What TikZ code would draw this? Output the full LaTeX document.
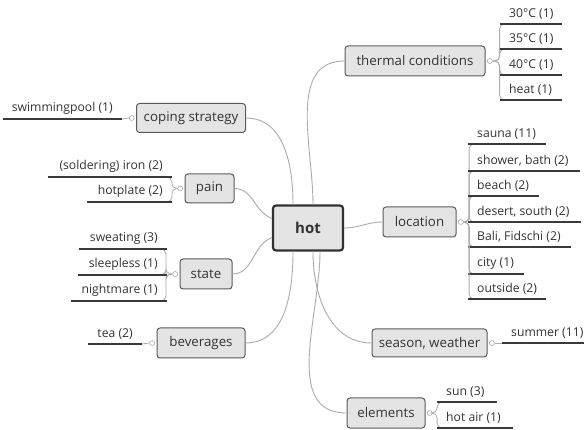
\documentclass[tikz,border=0pt]{standalone}
\usepackage{fontspec}
\setmainfont{Open Sans}
\usetikzlibrary{positioning}
\definecolor{boxfill}{HTML}{E4E4E4}
\definecolor{boxline}{HTML}{5A5A5A}
\definecolor{linkgray}{HTML}{ABABAB}
\definecolor{leafline}{HTML}{3A3A3A}
\definecolor{ink}{HTML}{333333}
\tikzset{
  topic/.style={draw=boxline, fill=boxfill, rounded corners=3pt, line width=1pt, text=ink,
    minimum height=30pt, inner sep=0pt, font=\fontsize{13.3}{15}\selectfont},
  central/.style={topic, draw=black!80, line width=2.2pt, minimum width=70pt,
    minimum height=45pt, font=\bfseries\fontsize{15}{18}\selectfont},
  knob/.style={circle, draw=linkgray, fill=white, inner sep=0pt, minimum size=5pt, line width=.6pt},
  link/.style={draw=linkgray, line width=.9pt},
  bracket/.style={draw=linkgray, line width=.8pt, rounded corners=5pt},
  leafR/.style={anchor=south west, inner xsep=9pt, inner ysep=4pt, text=ink, font=\fontsize{12.2}{14}\selectfont},
  leafL/.style={anchor=south east, inner xsep=9pt, inner ysep=4pt, text=ink, font=\fontsize{12.2}{14}\selectfont},
  under/.style={draw=leafline, line width=1.4pt},
}
\begin{document}
\begin{tikzpicture}[x=1pt,y=-1pt]
\useasboundingbox (0,0) rectangle (584,430);
%central topic
\node[central] (hot) at (308,228) {hot};
%right side topics
\node[topic, minimum width=140pt] (thermal) at (415,61) {thermal conditions};
\node[topic, minimum width=73pt] (location) at (419.5,222) {location};
\node[topic, minimum width=115pt, minimum height=28pt] (season) at (429.5,343) {season, weather};
\node[topic, minimum width=78pt] (elements) at (386,413) {elements};
%left side topics
\node[topic, minimum width=109pt, minimum height=29pt] (coping) at (191,118) {coping strategy};
\node[topic, minimum width=49pt, minimum height=29pt] (pain) at (209.5,188.5) {pain};
\node[topic, minimum width=52pt] (state) at (206,274) {state};
\node[topic, minimum width=88pt] (beverages) at (201,343) {beverages};
% links from the centre
\draw[link] ([xshift=5pt]hot.north) to[out=90,in=180] (thermal.west);
\draw[link] (hot.east) to[out=0,in=180] (location.west);
\draw[link] ([xshift=5pt]hot.south) to[out=-90,in=180] (season.west);
\draw[link] ([xshift=12pt]hot.south) to[out=-90,in=180] (elements.west);
\draw[link] ([xshift=-15pt]hot.north) to[out=90,in=0] (coping.east);
\draw[link] (hot.165) to[out=160,in=0] (pain.east);
\draw[link] (hot.195) to[out=200,in=0] (state.east);
\draw[link] ([xshift=-15pt]hot.south) to[out=-90,in=0] (beverages.east);
% knobs
\node[knob, right=1.5pt of thermal] (thermalk) {};
\node[knob, right=1.5pt of location] (locationk) {};
\node[knob, right=1.5pt of season] (seasonk) {};
\node[knob, right=1.5pt of elements] (elementsk) {};
\node[knob, left=1.5pt of coping] (copingk) {};
\node[knob, left=1.5pt of pain] (paink) {};
\node[knob, left=1.5pt of state] (statek) {};
\node[knob, left=1.5pt of beverages] (beveragesk) {};
%thermal conditions
\foreach \t/\y [count=\i] in {30°C (1)/24,35°C (1)/49,40°C (1)/75,heat (1)/100}{
  \node[leafR] (th\i) at (500,\y) {\t};
  \draw[bracket] (thermalk.east) -- ++(7,0) |- ([xshift=8pt]th\i.south west);
  \draw[under] (th\i.south west) -- ++(62,0);
}
%location
\foreach \t/\y/\w [count=\i] in {sauna (11)/144/78,{shower, bath (2)}/171/112,beach (2)/196/71,
    {desert, south (2)}/222/113,{Bali, Fidschi (2)}/247/103,city (1)/274/56,outside (2)/299/78}{
  \node[leafR] (lo\i) at (468,\y) {\t};
  \draw[bracket] (locationk.east) -- ++(5.5,0) |- ([xshift=8pt]lo\i.south west);
  \draw[under] (lo\i.south west) -- ++(\w,0);
}
%season, weather
\node[leafR] (se1) at (502,343) {summer (11)};
\draw[bracket] (seasonk.east) -- (se1.south west);
\draw[under] (se1.south west) -- ++(82,0);
%elements
\foreach \t/\y/\w [count=\i] in {sun (3)/402/60,hot air (1)/428/76}{
  \node[leafR] (el\i) at (437,\y) {\t};
  \draw[bracket] (elementsk.east) -- ++(4.5,0) |- ([xshift=8pt]el\i.south west);
  \draw[under] (el\i.south west) -- ++(\w,0);
}
%coping strategy
\node[leafL] (co1) at (122,119) {swimmingpool (1)};
\draw[bracket] (copingk.west) -- (co1.south east);
\draw[under] (co1.south east) -- ++(-119,0);
%pain
\foreach \t/\y/\w [count=\i] in {(soldering) iron (2)/177/124,hotplate (2)/202/85}{
  \node[leafL] (pa\i) at (172,\y) {\t};
  \draw[bracket] (paink.west) -- ++(-5.5,0) |- ([xshift=-8pt]pa\i.south east);
  \draw[under] (pa\i.south east) -- ++(-\w,0);
}
%state
\foreach \t/\y/\w [count=\i] in {sweating (3)/249/88,sleepless (1)/275/89,nightmare (1)/301/96}{
  \node[leafL] (st\i) at (167,\y) {\t};
  \draw[bracket] (statek.west) -- ++(-6.5,0) |- ([xshift=-8pt]st\i.south east);
  \draw[under] (st\i.south east) -- ++(-\w,0);
}
%beverages
\node[leafL] (be1) at (142,344) {tea (2)};
\draw[bracket] (beveragesk.west) -- (be1.south east);
\draw[under] (be1.south east) -- ++(-54,0);
\end{tikzpicture}
\end{document}
